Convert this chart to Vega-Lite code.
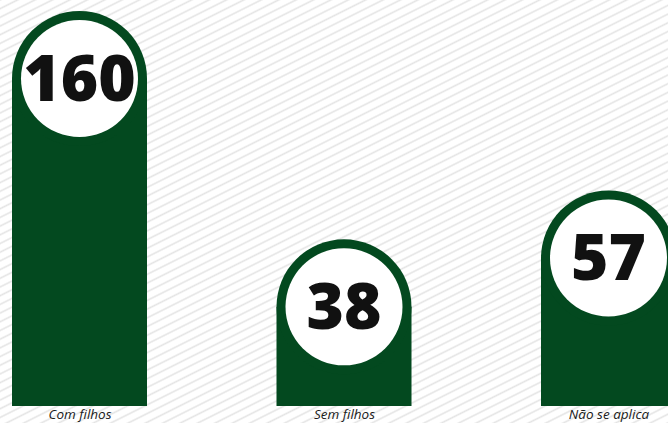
{
  "$schema": "https://vega.github.io/schema/vega-lite/v6.json",
  "width": 668,
  "height": 423,
  "autosize": {"type": "none"},
  "padding": 0,
  "background": "#ffffff",
  "config": {"view": {"stroke": null}},
  "data": {"values": [
    {"group": "Com filhos", "n": 160},
    {"group": "Sem filhos", "n": 38},
    {"group": "Não se aplica", "n": 57}
  ]},
  "layer": [
    {
      "data": {"values": [{}]},
      "mark": {"type": "rect", "fill": {"gradient": "linear", "x1": 0, "y1": 0, "x2": 1.0, "y2": 1.267, "stops": [
{"offset":0.00,"color":"#e4e4e4"},{"offset":0.002,"color":"#fff"},{"offset":0.008,"color":"#fff"},
{"offset":0.01,"color":"#e4e4e4"},{"offset":0.012,"color":"#fff"},{"offset":0.018,"color":"#fff"},
{"offset":0.02,"color":"#e4e4e4"},{"offset":0.022,"color":"#fff"},{"offset":0.028,"color":"#fff"},
{"offset":0.03,"color":"#e4e4e4"},{"offset":0.032,"color":"#fff"},{"offset":0.038,"color":"#fff"},
{"offset":0.04,"color":"#e4e4e4"},{"offset":0.042,"color":"#fff"},{"offset":0.048,"color":"#fff"},
{"offset":0.05,"color":"#e4e4e4"},{"offset":0.052,"color":"#fff"},{"offset":0.058,"color":"#fff"},
{"offset":0.06,"color":"#e4e4e4"},{"offset":0.062,"color":"#fff"},{"offset":0.068,"color":"#fff"},
{"offset":0.07,"color":"#e4e4e4"},{"offset":0.072,"color":"#fff"},{"offset":0.078,"color":"#fff"},
{"offset":0.08,"color":"#e4e4e4"},{"offset":0.082,"color":"#fff"},{"offset":0.088,"color":"#fff"},
{"offset":0.09,"color":"#e4e4e4"},{"offset":0.092,"color":"#fff"},{"offset":0.098,"color":"#fff"},
{"offset":0.10,"color":"#e4e4e4"},{"offset":0.102,"color":"#fff"},{"offset":0.108,"color":"#fff"},
{"offset":0.11,"color":"#e4e4e4"},{"offset":0.112,"color":"#fff"},{"offset":0.118,"color":"#fff"},
{"offset":0.12,"color":"#e4e4e4"},{"offset":0.122,"color":"#fff"},{"offset":0.128,"color":"#fff"},
{"offset":0.13,"color":"#e4e4e4"},{"offset":0.132,"color":"#fff"},{"offset":0.138,"color":"#fff"},
{"offset":0.14,"color":"#e4e4e4"},{"offset":0.142,"color":"#fff"},{"offset":0.148,"color":"#fff"},
{"offset":0.15,"color":"#e4e4e4"},{"offset":0.152,"color":"#fff"},{"offset":0.158,"color":"#fff"},
{"offset":0.16,"color":"#e4e4e4"},{"offset":0.162,"color":"#fff"},{"offset":0.168,"color":"#fff"},
{"offset":0.17,"color":"#e4e4e4"},{"offset":0.172,"color":"#fff"},{"offset":0.178,"color":"#fff"},
{"offset":0.18,"color":"#e4e4e4"},{"offset":0.182,"color":"#fff"},{"offset":0.188,"color":"#fff"},
{"offset":0.19,"color":"#e4e4e4"},{"offset":0.192,"color":"#fff"},{"offset":0.198,"color":"#fff"},
{"offset":0.20,"color":"#e4e4e4"},{"offset":0.202,"color":"#fff"},{"offset":0.208,"color":"#fff"},
{"offset":0.21,"color":"#e4e4e4"},{"offset":0.212,"color":"#fff"},{"offset":0.218,"color":"#fff"},
{"offset":0.22,"color":"#e4e4e4"},{"offset":0.222,"color":"#fff"},{"offset":0.228,"color":"#fff"},
{"offset":0.23,"color":"#e4e4e4"},{"offset":0.232,"color":"#fff"},{"offset":0.238,"color":"#fff"},
{"offset":0.24,"color":"#e4e4e4"},{"offset":0.242,"color":"#fff"},{"offset":0.248,"color":"#fff"},
{"offset":0.25,"color":"#e4e4e4"},{"offset":0.252,"color":"#fff"},{"offset":0.258,"color":"#fff"},
{"offset":0.26,"color":"#e4e4e4"},{"offset":0.262,"color":"#fff"},{"offset":0.268,"color":"#fff"},
{"offset":0.27,"color":"#e4e4e4"},{"offset":0.272,"color":"#fff"},{"offset":0.278,"color":"#fff"},
{"offset":0.28,"color":"#e4e4e4"},{"offset":0.282,"color":"#fff"},{"offset":0.288,"color":"#fff"},
{"offset":0.29,"color":"#e4e4e4"},{"offset":0.292,"color":"#fff"},{"offset":0.298,"color":"#fff"},
{"offset":0.30,"color":"#e4e4e4"},{"offset":0.302,"color":"#fff"},{"offset":0.308,"color":"#fff"},
{"offset":0.31,"color":"#e4e4e4"},{"offset":0.312,"color":"#fff"},{"offset":0.318,"color":"#fff"},
{"offset":0.32,"color":"#e4e4e4"},{"offset":0.322,"color":"#fff"},{"offset":0.328,"color":"#fff"},
{"offset":0.33,"color":"#e4e4e4"},{"offset":0.332,"color":"#fff"},{"offset":0.338,"color":"#fff"},
{"offset":0.34,"color":"#e4e4e4"},{"offset":0.342,"color":"#fff"},{"offset":0.348,"color":"#fff"},
{"offset":0.35,"color":"#e4e4e4"},{"offset":0.352,"color":"#fff"},{"offset":0.358,"color":"#fff"},
{"offset":0.36,"color":"#e4e4e4"},{"offset":0.362,"color":"#fff"},{"offset":0.368,"color":"#fff"},
{"offset":0.37,"color":"#e4e4e4"},{"offset":0.372,"color":"#fff"},{"offset":0.378,"color":"#fff"},
{"offset":0.38,"color":"#e4e4e4"},{"offset":0.382,"color":"#fff"},{"offset":0.388,"color":"#fff"},
{"offset":0.39,"color":"#e4e4e4"},{"offset":0.392,"color":"#fff"},{"offset":0.398,"color":"#fff"},
{"offset":0.40,"color":"#e4e4e4"},{"offset":0.402,"color":"#fff"},{"offset":0.408,"color":"#fff"},
{"offset":0.41,"color":"#e4e4e4"},{"offset":0.412,"color":"#fff"},{"offset":0.418,"color":"#fff"},
{"offset":0.42,"color":"#e4e4e4"},{"offset":0.422,"color":"#fff"},{"offset":0.428,"color":"#fff"},
{"offset":0.43,"color":"#e4e4e4"},{"offset":0.432,"color":"#fff"},{"offset":0.438,"color":"#fff"},
{"offset":0.44,"color":"#e4e4e4"},{"offset":0.442,"color":"#fff"},{"offset":0.448,"color":"#fff"},
{"offset":0.45,"color":"#e4e4e4"},{"offset":0.452,"color":"#fff"},{"offset":0.458,"color":"#fff"},
{"offset":0.46,"color":"#e4e4e4"},{"offset":0.462,"color":"#fff"},{"offset":0.468,"color":"#fff"},
{"offset":0.47,"color":"#e4e4e4"},{"offset":0.472,"color":"#fff"},{"offset":0.478,"color":"#fff"},
{"offset":0.48,"color":"#e4e4e4"},{"offset":0.482,"color":"#fff"},{"offset":0.488,"color":"#fff"},
{"offset":0.49,"color":"#e4e4e4"},{"offset":0.492,"color":"#fff"},{"offset":0.498,"color":"#fff"},
{"offset":0.50,"color":"#e4e4e4"},{"offset":0.502,"color":"#fff"},{"offset":0.508,"color":"#fff"},
{"offset":0.51,"color":"#e4e4e4"},{"offset":0.512,"color":"#fff"},{"offset":0.518,"color":"#fff"},
{"offset":0.52,"color":"#e4e4e4"},{"offset":0.522,"color":"#fff"},{"offset":0.528,"color":"#fff"},
{"offset":0.53,"color":"#e4e4e4"},{"offset":0.532,"color":"#fff"},{"offset":0.538,"color":"#fff"},
{"offset":0.54,"color":"#e4e4e4"},{"offset":0.542,"color":"#fff"},{"offset":0.548,"color":"#fff"},
{"offset":0.55,"color":"#e4e4e4"},{"offset":0.552,"color":"#fff"},{"offset":0.558,"color":"#fff"},
{"offset":0.56,"color":"#e4e4e4"},{"offset":0.562,"color":"#fff"},{"offset":0.568,"color":"#fff"},
{"offset":0.57,"color":"#e4e4e4"},{"offset":0.572,"color":"#fff"},{"offset":0.578,"color":"#fff"},
{"offset":0.58,"color":"#e4e4e4"},{"offset":0.582,"color":"#fff"},{"offset":0.588,"color":"#fff"},
{"offset":0.59,"color":"#e4e4e4"},{"offset":0.592,"color":"#fff"},{"offset":0.598,"color":"#fff"},
{"offset":0.60,"color":"#e4e4e4"},{"offset":0.602,"color":"#fff"},{"offset":0.608,"color":"#fff"},
{"offset":0.61,"color":"#e4e4e4"},{"offset":0.612,"color":"#fff"},{"offset":0.618,"color":"#fff"},
{"offset":0.62,"color":"#e4e4e4"},{"offset":0.622,"color":"#fff"},{"offset":0.628,"color":"#fff"},
{"offset":0.63,"color":"#e4e4e4"},{"offset":0.632,"color":"#fff"},{"offset":0.638,"color":"#fff"},
{"offset":0.64,"color":"#e4e4e4"},{"offset":0.642,"color":"#fff"},{"offset":0.648,"color":"#fff"},
{"offset":0.65,"color":"#e4e4e4"},{"offset":0.652,"color":"#fff"},{"offset":0.658,"color":"#fff"},
{"offset":0.66,"color":"#e4e4e4"},{"offset":0.662,"color":"#fff"},{"offset":0.668,"color":"#fff"},
{"offset":0.67,"color":"#e4e4e4"},{"offset":0.672,"color":"#fff"},{"offset":0.678,"color":"#fff"},
{"offset":0.68,"color":"#e4e4e4"},{"offset":0.682,"color":"#fff"},{"offset":0.688,"color":"#fff"},
{"offset":0.69,"color":"#e4e4e4"},{"offset":0.692,"color":"#fff"},{"offset":0.698,"color":"#fff"},
{"offset":0.70,"color":"#e4e4e4"},{"offset":0.702,"color":"#fff"},{"offset":0.708,"color":"#fff"},
{"offset":0.71,"color":"#e4e4e4"},{"offset":0.712,"color":"#fff"},{"offset":0.718,"color":"#fff"},
{"offset":0.72,"color":"#e4e4e4"},{"offset":0.722,"color":"#fff"},{"offset":0.728,"color":"#fff"},
{"offset":0.73,"color":"#e4e4e4"},{"offset":0.732,"color":"#fff"},{"offset":0.738,"color":"#fff"},
{"offset":0.74,"color":"#e4e4e4"},{"offset":0.742,"color":"#fff"},{"offset":0.748,"color":"#fff"},
{"offset":0.75,"color":"#e4e4e4"},{"offset":0.752,"color":"#fff"},{"offset":0.758,"color":"#fff"},
{"offset":0.76,"color":"#e4e4e4"},{"offset":0.762,"color":"#fff"},{"offset":0.768,"color":"#fff"},
{"offset":0.77,"color":"#e4e4e4"},{"offset":0.772,"color":"#fff"},{"offset":0.778,"color":"#fff"},
{"offset":0.78,"color":"#e4e4e4"},{"offset":0.782,"color":"#fff"},{"offset":0.788,"color":"#fff"},
{"offset":0.79,"color":"#e4e4e4"},{"offset":0.792,"color":"#fff"},{"offset":0.798,"color":"#fff"},
{"offset":0.80,"color":"#e4e4e4"},{"offset":0.802,"color":"#fff"},{"offset":0.808,"color":"#fff"},
{"offset":0.81,"color":"#e4e4e4"},{"offset":0.812,"color":"#fff"},{"offset":0.818,"color":"#fff"},
{"offset":0.82,"color":"#e4e4e4"},{"offset":0.822,"color":"#fff"},{"offset":0.828,"color":"#fff"},
{"offset":0.83,"color":"#e4e4e4"},{"offset":0.832,"color":"#fff"},{"offset":0.838,"color":"#fff"},
{"offset":0.84,"color":"#e4e4e4"},{"offset":0.842,"color":"#fff"},{"offset":0.848,"color":"#fff"},
{"offset":0.85,"color":"#e4e4e4"},{"offset":0.852,"color":"#fff"},{"offset":0.858,"color":"#fff"},
{"offset":0.86,"color":"#e4e4e4"},{"offset":0.862,"color":"#fff"},{"offset":0.868,"color":"#fff"},
{"offset":0.87,"color":"#e4e4e4"},{"offset":0.872,"color":"#fff"},{"offset":0.878,"color":"#fff"},
{"offset":0.88,"color":"#e4e4e4"},{"offset":0.882,"color":"#fff"},{"offset":0.888,"color":"#fff"},
{"offset":0.89,"color":"#e4e4e4"}
      ]}},
      "encoding": {}
    },
    {
      "encoding": {
        "x": {
          "field": "group", "type": "nominal", "sort": null,
          "scale": {"type": "point", "range": [79.5, 608.5], "padding": 0},
          "axis": {"title": null, "domain": false, "ticks": false, "grid": false, "labelAngle": 0,
                   "labelFont": "Open Sans", "labelFontStyle": "italic", "labelFontSize": 13.5,
                   "labelColor": "#1a1a1a", "labelPadding": 1, "offset": -17, "zindex": 1,
                   "labelOverlap": false, "labelBound": false, "labelFlush": false}
        },
        "y": {"field": "n", "type": "quantitative",
              "scale": {"type": "sqrt", "domain": [8.213, 221.4], "nice": false, "zero": false},
              "axis": null}
      },
      "layer": [
        {"mark": {"type": "bar", "width": 135, "color": "#03491f"},
         "encoding": {"y2": {"datum": 11.21}}},
        {"mark": {"type": "point", "shape": "circle", "filled": true, "opacity": 1, "size": 18225, "color": "#03491f", "strokeWidth": 0}},
        {"mark": {"type": "point", "shape": "circle", "filled": true, "opacity": 1, "size": 13689, "color": "#ffffff", "strokeWidth": 0}},
        {"mark": {"type": "text", "font": "Open Sans", "fontWeight": 800, "fontSize": 64, "color": "#111111", "baseline": "alphabetic", "dy": 22},
         "encoding": {"text": {"field": "n", "type": "quantitative"}}}
      ]
    }
  ]
}
